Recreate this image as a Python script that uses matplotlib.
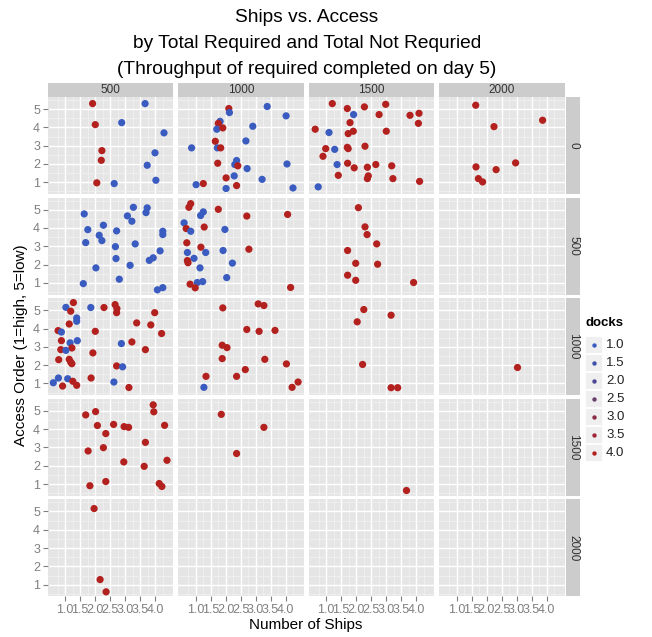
import matplotlib.pyplot as plt
from matplotlib.colors import LinearSegmentedColormap
from matplotlib.patches import Rectangle

plt.rcParams['font.family'] = ['Liberation Sans', 'DejaVu Sans']

# facet levels
col_levels = ['500', '1000', '1500', '2000']        # columns (top strips)
row_levels = ['0', '500', '1000', '1500', '2000']   # rows (right strips)
dock_levels = [1.0, 1.5, 2.0, 2.5, 3.0, 3.5, 4.0]
x_ticks = [1.0, 1.5, 2.0, 2.5, 3.0, 3.5, 4.0]
y_ticks = [1, 2, 3, 4, 5]

B, R = 1.0, 4.0

# row 0
ships_r0_c500 = [1.92, 2.01, 2.23, 2.21, 2.06, 3.67, 2.89, 4.30, 4.00, 3.74, 4.03, 2.64]
access_r0_c500 = [5.30, 4.15, 2.73, 2.20, 0.97, 5.30, 4.26, 3.70, 2.61, 1.93, 1.11, 0.93]
docks_r0_c500 = [R, R, R, R, R, B, B, B, B, B, B, B]

ships_r0_c1000 = [2.11, 2.13, 3.39, 4.02, 1.82, 1.76, 1.71, 1.91, 2.91, 1.66, 2.68, 0.87, 1.73, 1.84,
                  1.74, 2.37, 2.31, 2.41, 2.72, 4.05, 2.02, 2.29, 3.22, 1.26, 1.02, 2.37, 2.02, 4.25]
access_r0_c1000 = [5.03, 4.81, 5.14, 4.63, 4.33, 4.22, 3.90, 3.97, 4.06, 3.24, 3.26, 2.88, 2.88, 2.88,
                   2.04, 2.19, 1.97, 1.90, 1.75, 2.00, 1.24, 1.35, 1.16, 0.93, 0.87, 0.82, 0.66, 0.69]
docks_r0_c1000 = [R, B, B, B, B, R, B, R, B, R, B, B, B, R,
                  R, B, B, R, B, B, R, B, B, R, B, R, B, B]

ships_r0_c1500 = [1.21, 1.71, 2.28, 2.99, 1.92, 2.77, 3.80, 4.10, 4.08, 1.80, 0.64, 1.10, 1.74, 1.91,
                  3.01, 0.99, 1.29, 1.71, 1.74, 2.30, 0.90, 1.37, 1.72, 1.94, 2.38, 2.66, 3.19, 1.41,
                  2.41, 2.38, 3.23, 4.12, 0.74]
access_r0_c1500 = [5.30, 5.03, 5.12, 5.26, 4.70, 4.70, 4.66, 4.77, 4.22, 4.26, 3.90, 3.72, 3.66, 3.79,
                   3.79, 2.84, 2.80, 2.91, 2.84, 2.97, 2.42, 1.97, 2.04, 1.79, 1.82, 1.97, 1.90, 1.38,
                   1.35, 1.20, 1.20, 1.05, 0.75]
docks_r0_c1500 = [R, R, R, R, B, R, R, R, R, R, R, B, R, R,
                  R, R, B, R, R, R, R, B, R, R, R, R, R, R,
                  R, R, R, R, B]

ships_r0_c2000 = [1.64, 3.87, 2.25, 2.97, 1.65, 2.32, 1.73, 1.87]
access_r0_c2000 = [5.21, 4.39, 4.04, 2.06, 1.84, 1.69, 1.20, 1.02]
docks_r0_c2000 = [R] * 8

# row 500
ships_r500_c500 = [1.64, 1.76, 2.28, 2.14, 2.23, 1.69, 2.72, 2.68, 2.70, 2.03, 1.61, 2.81, 3.17, 3.08,
                   3.28, 3.23, 3.34, 3.74, 3.70, 3.81, 3.94, 4.17, 4.26, 4.26, 4.08, 4.26]
access_r500_c500 = [4.77, 3.91, 4.15, 3.60, 3.31, 3.20, 3.84, 2.98, 2.33, 1.82, 0.96, 1.20, 1.96, 4.66,
                    5.13, 4.37, 3.13, 5.10, 4.84, 2.23, 2.37, 2.75, 3.82, 3.64, 0.62, 0.74]
docks_r500_c500 = [B] * 26

ships_r500_c1000 = [0.84, 0.78, 1.26, 1.17, 1.76, 2.71, 4.07, 0.62, 0.69, 0.84, 1.29, 1.98, 0.71, 1.18,
                    2.78, 0.73, 1.34, 1.92, 0.95, 0.73, 0.75, 2.23, 1.15, 2.04, 0.82, 1.06, 1.24, 0.99, 4.17]
access_r500_c1000 = [5.33, 5.13, 4.88, 4.68, 5.02, 4.65, 4.74, 4.28, 3.97, 3.82, 4.05, 3.92, 3.19, 2.95,
                     2.84, 2.66, 2.66, 2.77, 2.34, 2.22, 2.10, 2.08, 1.82, 1.29, 0.93, 1.02, 1.07, 0.73, 0.75]
docks_r500_c1000 = [R, R, B, B, R, R, R, B, R, B, R, B, R, R,
                    R, B, B, B, B, R, R, B, B, B, R, B, B, R, R]

ships_r500_c1500 = [2.08, 2.30, 2.37, 2.69, 1.72, 1.99, 2.72, 1.72, 1.99, 3.92]
access_r500_c1500 = [5.11, 4.06, 3.64, 3.13, 2.77, 2.07, 2.02, 1.42, 1.14, 1.02]
docks_r500_c1500 = [R] * 10

# row 1000
ships_r1000_c500 = [1.28, 1.03, 1.19, 1.86, 2.30, 2.67, 2.73, 2.72, 3.99, 1.39, 1.39, 1.14, 3.39, 3.86,
                    0.77, 0.88, 2.01, 4.22, 0.88, 1.41, 1.17, 1.23, 0.86, 1.03, 2.88, 3.23, 3.68, 1.93,
                    0.79, 1.14, 1.19, 1.23, 2.72, 2.92, 0.61, 0.78, 1.09, 0.92, 1.26, 1.39, 1.87, 2.63, 3.13]
access_r1000_c500 = [5.42, 5.16, 4.95, 5.15, 5.15, 5.31, 5.09, 4.87, 4.87, 4.58, 4.40, 4.25, 4.31, 4.20,
                     3.89, 3.81, 3.85, 3.73, 3.34, 3.34, 3.22, 2.94, 2.85, 2.81, 3.18, 3.27, 2.85, 2.67,
                     2.30, 2.32, 2.17, 2.08, 1.96, 1.91, 1.04, 1.30, 1.26, 0.86, 1.12, 0.90, 1.30, 1.08, 0.78]
docks_r1000_c500 = [R, B, R, B, R, R, R, R, R, B, B, R, R, R,
                    R, B, R, R, R, B, B, R, R, B, B, R, R, R,
                    R, R, R, R, R, B, B, B, B, R, R, R, R, B, R]

ships_r1000_c1000 = [1.91, 3.09, 3.28, 2.71, 3.12, 3.65, 1.89, 2.05, 1.89, 3.31, 4.03, 2.66, 1.35, 2.37,
                     1.28, 4.22, 4.42]
access_r1000_c1000 = [5.13, 5.35, 5.26, 3.95, 3.85, 3.90, 3.09, 2.96, 2.36, 2.32, 2.07, 1.76, 1.39, 1.39,
                      0.79, 0.79, 1.08]
docks_r1000_c1000 = [R, R, R, R, R, R, R, R, R, R, R, R, R, R, B, R, R]

ships_r1000_c1500 = [2.26, 3.17, 2.04, 2.22, 3.17, 3.39]
access_r1000_c1500 = [5.04, 4.73, 4.37, 2.04, 0.77, 0.77]
docks_r1000_c1500 = [R] * 6

ships_r1000_c2000 = [3.03]
access_r1000_c2000 = [1.88]
docks_r1000_c2000 = [R]

# row 1500
ships_r1500_c500 = [1.69, 2.02, 2.08, 2.36, 2.62, 2.97, 3.12, 3.94, 3.96, 4.32, 1.77, 2.28, 3.68, 2.96,
                    3.64, 4.40, 1.83, 2.36, 4.14, 4.23]
access_r1500_c500 = [4.78, 4.96, 4.20, 3.76, 4.26, 4.14, 4.10, 5.33, 4.95, 4.21, 2.81, 2.99, 3.28, 2.21,
                     1.97, 2.30, 0.91, 1.14, 1.03, 0.87]
docks_r1500_c500 = [R] * 20

ships_r1500_c1000 = [1.86, 3.28, 2.37]
access_r1500_c1000 = [4.81, 4.10, 2.67]
docks_r1500_c1000 = [R] * 3

ships_r1500_c1500 = [3.67]
access_r1500_c1500 = [0.70]
docks_r1500_c1500 = [R]

# row 2000
ships_r2000_c500 = [1.97, 2.17, 2.37]
access_r2000_c500 = [5.16, 1.28, 0.61]
docks_r2000_c500 = [R] * 3

panels = {
    ('0', '500'): (ships_r0_c500, access_r0_c500, docks_r0_c500),
    ('0', '1000'): (ships_r0_c1000, access_r0_c1000, docks_r0_c1000),
    ('0', '1500'): (ships_r0_c1500, access_r0_c1500, docks_r0_c1500),
    ('0', '2000'): (ships_r0_c2000, access_r0_c2000, docks_r0_c2000),
    ('500', '500'): (ships_r500_c500, access_r500_c500, docks_r500_c500),
    ('500', '1000'): (ships_r500_c1000, access_r500_c1000, docks_r500_c1000),
    ('500', '1500'): (ships_r500_c1500, access_r500_c1500, docks_r500_c1500),
    ('1000', '500'): (ships_r1000_c500, access_r1000_c500, docks_r1000_c500),
    ('1000', '1000'): (ships_r1000_c1000, access_r1000_c1000, docks_r1000_c1000),
    ('1000', '1500'): (ships_r1000_c1500, access_r1000_c1500, docks_r1000_c1500),
    ('1000', '2000'): (ships_r1000_c2000, access_r1000_c2000, docks_r1000_c2000),
    ('1500', '500'): (ships_r1500_c500, access_r1500_c500, docks_r1500_c500),
    ('1500', '1000'): (ships_r1500_c1000, access_r1500_c1000, docks_r1500_c1000),
    ('1500', '1500'): (ships_r1500_c1500, access_r1500_c1500, docks_r1500_c1500),
    ('2000', '500'): (ships_r2000_c500, access_r2000_c500, docks_r2000_c500),
}

dock_cmap = LinearSegmentedColormap.from_list(
    'docks', ['#3A5BBF', '#3F50AC', '#4C4794', '#6A3E6C', '#8A2C47', '#A1263A', '#B3211F'])

W, H = 652, 637
fig = plt.figure(figsize=(W / 100, H / 100), dpi=100)

def rect(x0, y0, w, h):
    # pixel box (top-left origin) -> figure fraction
    return [x0 / W, 1 - (y0 + h) / H, w / W, h / H]

panel_left, panel_w, col_step = 47.6, 125.7, 130.5
panel_top, panel_h, row_step = 97.0, 97.0, 100.6
strip_h = 14.5
grey_text = '#7F7F7F'

for ri, rlab in enumerate(row_levels):
    for ci, clab in enumerate(col_levels):
        x0 = panel_left + ci * col_step
        y0 = panel_top + ri * row_step
        ax = fig.add_axes(rect(x0, y0, panel_w, panel_h))
        ax.set_facecolor('#E5E5E5')
        ax.set_xlim(0.42, 4.61)
        ax.set_ylim(0.36, 5.66)
        ax.set_xticks(x_ticks)
        ax.set_yticks(y_ticks)
        ax.set_xticks([0.75 + 0.5 * i for i in range(8)], minor=True)
        ax.set_yticks([0.5 + i for i in range(6)], minor=True)
        ax.grid(which='major', color='white', lw=1.0)
        ax.grid(which='minor', color='#F2F2F2', lw=0.5)
        ax.set_axisbelow(True)
        for s in ax.spines.values():
            s.set_visible(False)
        ax.tick_params(which='minor', length=0)
        ax.tick_params(which='major', color=grey_text, length=3.5, width=0.8,
                       labelsize=9, labelcolor=grey_text, pad=2)
        ax.set_xticklabels(['%.1f' % t for t in x_ticks])
        if ci > 0:
            ax.tick_params(axis='y', left=False, labelleft=False)
        if ri < len(row_levels) - 1:
            ax.tick_params(axis='x', bottom=False, labelbottom=False)

        if (rlab, clab) in panels:
            xs, ys, ds = panels[(rlab, clab)]
            ax.scatter(xs, ys, c=ds, cmap=dock_cmap, vmin=1.0, vmax=4.0,
                       s=27, linewidths=0, zorder=3)

        # top strip
        if ri == 0:
            sax = fig.add_axes(rect(x0, y0 - strip_h, panel_w, strip_h))
            sax.set_facecolor('#CCCCCC')
            sax.set_xticks([]); sax.set_yticks([])
            for s in sax.spines.values():
                s.set_visible(False)
            sax.text(0.5, 0.5, clab, ha='center', va='center', fontsize=8.5,
                     color='#333333', transform=sax.transAxes)
        # right strip
        if ci == len(col_levels) - 1:
            sax = fig.add_axes(rect(x0 + panel_w + 1, y0, strip_h, panel_h))
            sax.set_facecolor('#CCCCCC')
            sax.set_xticks([]); sax.set_yticks([])
            for s in sax.spines.values():
                s.set_visible(False)
            sax.text(0.5, 0.5, rlab, ha='center', va='center', fontsize=8.5,
                     color='#333333', rotation=-90, transform=sax.transAxes)

fig.text(307 / W, 1 - 18 / H, 'Ships vs. Access', ha='center', va='center', fontsize=13.8)
fig.text(307 / W, 1 - 44 / H, 'by Total Required and Total Not Requried',
         ha='center', va='center', fontsize=13.8)
fig.text(307 / W, 1 - 69 / H, '(Throughput of required completed on day 5)',
         ha='center', va='center', fontsize=13.8)
fig.text(306 / W, 1 - 625 / H, 'Number of Ships', ha='center', va='center', fontsize=11)
fig.text(21 / W, 1 - 345 / H, 'Access Order (1=high, 5=low)', ha='center', va='center',
         fontsize=11, rotation=90)

# legend for docks
lax = fig.add_axes([0, 0, 1, 1], facecolor='none')
lax.set_xlim(0, W)
lax.set_ylim(H, 0)
lax.axis('off')
lax.text(585, 323, 'docks', fontsize=9.5, fontweight='bold', va='center', ha='left')
for i, d in enumerate(dock_levels):
    yc = 344.5 + 18 * i
    lax.add_patch(Rectangle((585, yc - 8.5), 17, 17, facecolor='#EFEFEF', edgecolor='white', lw=0.6))
    lax.scatter([593.5], [yc], s=10, c=[d], cmap=dock_cmap, vmin=1.0, vmax=4.0, linewidths=0)
    lax.text(606, yc, '%.1f' % d, fontsize=9.5, va='center', ha='left', color='#222222')

fig.savefig('out.png', dpi=100)
